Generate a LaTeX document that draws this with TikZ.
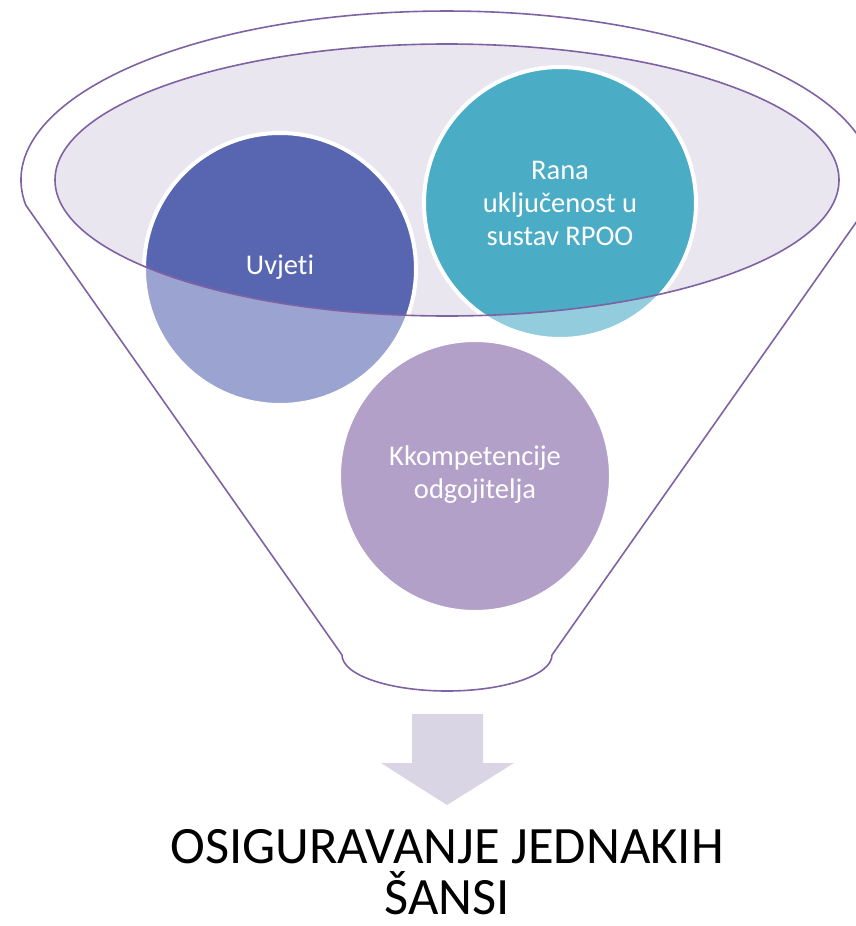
\documentclass[tikz,border=0pt]{standalone}
\usepackage{fontspec}
\setmainfont{Carlito}[Ligatures={NoCommon}]
\definecolor{fpurple}{HTML}{7F62A3}
\definecolor{innerfill}{HTML}{E9E6EF}
\definecolor{cblue}{HTML}{5866B1}
\definecolor{cteal}{HTML}{4BACC6}
\definecolor{cpurple}{HTML}{7E61A4}
\definecolor{arrowfill}{HTML}{D9D5E5}
\tikzset{
  funnelline/.style={draw=fpurple, line width=1.6pt},
  bubble/.style={circle, inner sep=0pt, minimum size=274pt},
  bubbleborder/.style={draw=white, line width=4pt},
  bubbletext/.style={text=white, align=center, font=\fontsize{28.5}{33}\selectfont},
  titletext/.style={text=black, align=center, font=\fontsize{52.5}{51}\selectfont},
}
\begin{document}
\begin{tikzpicture}[x=1pt,y=-1pt]
\useasboundingbox (0,0) rectangle (856,926);
% inner ellipse fill
\fill[innerfill] (447,180) ellipse[x radius=392, y radius=136];
% circles, light (outside the inner ellipse)
\node[bubble, fill=cblue!60!white] (c1) at (280,269) {};
\node[bubble, fill=cteal!60!white] (c2) at (560,203) {};
\node[bubble, fill=cpurple!60!white] (c3) at (475,476) {};
% darker part inside the inner ellipse
\begin{scope}
  \clip (447,180) ellipse[x radius=392, y radius=136];
  \fill[cblue] (c1.center) circle[radius=137];
  \fill[cteal] (c2.center) circle[radius=137];
  \fill[cpurple] (c3.center) circle[radius=137];
\end{scope}
% white borders
\draw[bubbleborder] (c1.center) circle[radius=136];
\draw[bubbleborder] (c2.center) circle[radius=136];
\draw[bubbleborder] (c3.center) circle[radius=136];
% inner ellipse outline
\draw[funnelline] (447,180) ellipse[x radius=392, y radius=136];
% outer funnel
\draw[funnelline, line join=round] (25.7,205) arc[start angle=171.5, end angle=368.5, x radius=426, y radius=169]
  -- (552,655) arc[start angle=0, end angle=180, x radius=105, y radius=36] -- cycle;
% texts
\node[bubbletext] (t1) at (280,267) {Uvjeti};
\node[bubbletext] (t2) at (560,203) {Rana\\uključenost u\\sustav RPOO};
\node[bubbletext] (t3) at (475,475) {Kkompetencije\\odgojitelja};
% arrow
\fill[arrowfill] (412,714) -- (483,714) -- (483,763) -- (514,763) -- (447,805) -- (381,763) -- (412,763) -- cycle;
\node[titletext] (title) at (447,872) {OSIGURAVANJE JEDNAKIH\\ŠANSI};
\end{tikzpicture}
\end{document}
